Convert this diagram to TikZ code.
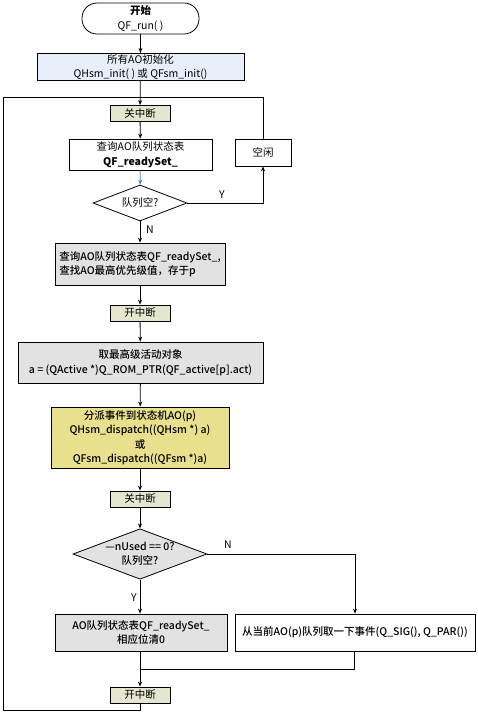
\documentclass[tikz,border=0pt]{standalone}
\usepackage{fontspec}
\setmainfont{Noto Sans CJK SC}[BoldFont={Noto Sans CJK SC Medium}]
\newfontfamily\heavyfont{Noto Sans CJK SC}
\usepackage{tikz}
\usetikzlibrary{arrows.meta}
\usetikzlibrary{shapes.geometric}

\definecolor{initblue}{HTML}{E8EEF8}
\definecolor{irqolive}{HTML}{E4E6CF}
\definecolor{boxgray}{HTML}{E2E2E2}
\definecolor{dispyellow}{HTML}{E8E08C}
\definecolor{arrowblue}{HTML}{4A7CC0}

\tikzset{
    box/.style={draw=black, rectangle, inner sep=1pt, align=center},
    irqbox/.style={box, fill=irqolive, minimum width=60pt, minimum height=16pt},
    decision/.style={draw=black, diamond, inner sep=0pt, aspect=2.6, align=center},
    flow/.style={-{Stealth[length=5pt, width=4pt]}},
}

\begin{document}
\begin{tikzpicture}[x=1pt, y=-1pt, line width=0.8pt,
    font=\fontsize{10.5}{14.5}\selectfont]
        \useasboundingbox (0,0) rectangle (478,714);

        % upper part
        \node[box, rounded corners=15pt,
            minimum width=117pt, minimum height=31pt]
        (start) at (140.5,18.5) {{\heavyfont\bfseries 开始}\\QF\_run( )};

        \node[box, fill=initblue,
            minimum width=207pt, minimum height=26pt]
        (init) at (140.5,67) {所有AO初始化\\QHsm\_init( ) 或 QFsm\_init()};

        \node[irqbox] (guan1) at (140,113.5) {关中断};

        \node[box, fill=white,
            minimum width=143pt, minimum height=31pt]
        (query) at (140.5,154.5) {查询AO队列状态表\\{\heavyfont\bfseries QF\_readySet\_}};

        \node[box, minimum width=56pt, minimum height=27pt]
        (idle) at (263,152.5) {空闲};

        \node[decision, minimum width=94pt, minimum height=36pt]
        (empty1) at (140,203) {队列空?};

        \node[box, fill=boxgray, align=left,
            minimum width=170pt, minimum height=42pt]
        (find) at (140,264)
        {\textbf{查询AO队列状态表QF\_readySet\_,}\\\textbf{查找AO最高优先级值，存于p}};

        \node[irqbox] (kai1) at (140,313) {开中断};

        \node[box, fill=boxgray,
            minimum width=245pt, minimum height=41pt]
        (fetch) at (140.5,362.5)
        {\textbf{取最高级活动对象}\\\textbf{a = (QActive *)Q\_ROM\_PTR(QF\_active[p].act)}};

        \node[box, fill=dispyellow,
            minimum width=178pt, minimum height=61pt]
        (dispatch) at (140,437.5)
        {\textbf{分派事件到状态机AO(p)}\\\textbf{QHsm\_dispatch((QHsm *) a)}\\
         \textbf{或}\\\textbf{QFsm\_dispatch((QFsm *)a)}};

        % lower part
        \node[irqbox] (guan2) at (140,499) {关中断};

        \node[decision, fill=boxgray, minimum width=134pt, minimum height=50pt]
        (empty2) at (140,554) {\textbf{—nUsed == 0?}\\\textbf{队列空?}};

        \node[box, fill=boxgray,
            minimum width=172pt, minimum height=37pt]
        (clear) at (141,632.5)
        {\textbf{AO队列状态表QF\_readySet\_}\\\textbf{相应位清0}};

        \node[box, minimum width=240pt, minimum height=37pt]
        (next) at (355,632.5)
        {\textbf{从当前AO(p)队列取一下事件(Q\_SIG(), Q\_PAR())}};

        \node[irqbox] (kai2) at (140,695) {开中断};

        \coordinate (loopbot) at (3,710);
        \coordinate (looptop) at (3,97);
        \coordinate (merge) at (140,669);
        \coordinate (ycorner) at (263,203);

        % connectors
        \draw[flow] (start) -- (init);
        \draw[flow] (init) -- (guan1);
        \draw[flow] (guan1) -- (query);
        \draw[flow, draw=arrowblue] (query) -- (empty1);
        \draw[flow] (empty1.east) -- (ycorner) -- (idle.south);
        \node at (222,195) {Y};
        \draw[flow] (empty1.south) -- (find.north);
        \node at (150,230) {N};
        \draw[flow] (find) -- (kai1);
        \draw[flow] (kai1) -- (fetch);
        \draw[flow] (fetch) -- (dispatch);
        \draw[flow] (dispatch) -- (guan2);
        \draw[flow] (guan2) -- (empty2.north);
        \draw[flow] (empty2.east) -| (next.north);
        \node at (228,545) {N};
        \draw[flow] (empty2.south) -- (clear.north -| empty2.south);
        \node at (134,598) {Y};
        \draw[flow] (clear.south -| merge) -- (kai2.north);
        \draw (next.south -| 354,0) |- (merge);
        \draw (idle.north) |- (looptop) -- (loopbot) -| (kai2.south);
\end{tikzpicture}
\end{document}
